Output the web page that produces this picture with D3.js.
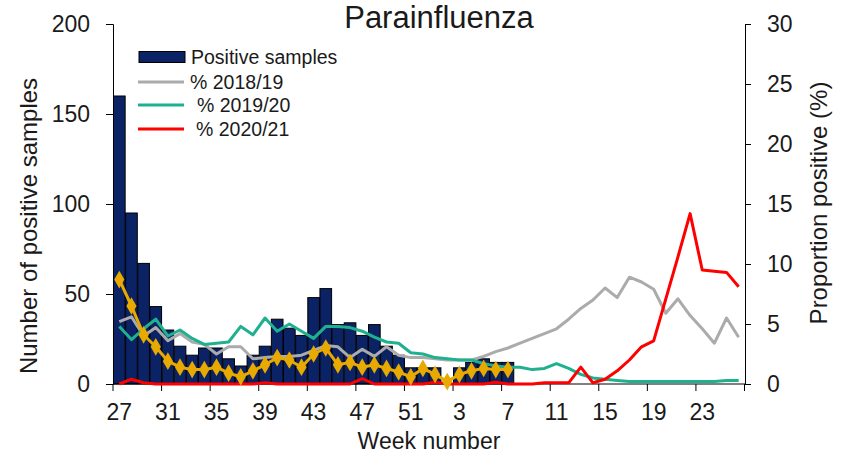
<!DOCTYPE html>
<html>
<head>
<meta charset="utf-8">
<script src="https://cdn.jsdelivr.net/npm/d3@7"></script>
<style>
  body { margin: 0; background: #fff; }
  svg { display: block; font-family: "Liberation Sans", Arial, sans-serif; }
</style>
</head>
<body>
<svg id="chart" width="846" height="469"></svg>
<script>
"use strict";

// week categories, season runs week 27 -> week 26
const weeks = ["27","28","29","30","31","32","33","34","35","36","37","38","39","40","41","42","43","44","45","46","47","48","49","50","51","52",
               "1","2","3","4","5","6","7","8","9","10","11","12","13","14","15","16","17","18","19","20","21","22","23","24","25","26"];
const weekTicks = ["27","31","35","39","43","47","51","3","7","11","15","19","23"];

// positive samples (current season, up to week 7)
const positives = [160,95,67,43,30,21,16,20,20,14,10,16,21,36,31,27,48,53,33,34,27,33,21,16,9,9,
                   9,0,9,12,14,12,12];

// proportion positive (%)
const pct1819 = [5.2,5.6,4.0,4.7,3.6,4.2,3.5,3.3,2.5,3.1,3.1,2.1,2.2,2.3,2.3,2.4,2.8,3.2,3.1,2.2,2.9,2.3,3.1,2.4,2.2,2.2,
                 2.1,2.0,2.0,2.0,2.3,2.7,3.0,3.4,3.8,4.2,4.6,5.4,6.3,7.0,8.0,7.2,8.9,8.5,7.9,5.9,7.1,5.7,4.6,3.4,5.5,3.9];
const pct1920 = [4.8,3.7,4.6,5.4,4.0,4.5,3.8,3.3,3.4,3.5,4.8,4.1,5.5,4.4,5.0,4.4,3.8,4.8,4.8,4.7,4.4,3.9,3.5,3.4,2.6,2.5,
                 2.2,2.1,2.0,2.0,1.7,1.5,1.4,1.4,1.2,1.3,1.7,1.3,0.8,0.5,0.4,0.3,0.2,0.2,0.2,0.2,0.2,0.2,0.2,0.2,0.3,0.3];
const pct2021 = [0,0.4,0.1,0,0,0,0,0,0,0,0,0,0.1,0,0,0,0,0,0,0,0.45,0,0,0,0,0,
                 0.15,0,0,0,0,0.15,0,0,0,0.1,0.1,0.1,1.4,0.1,0.4,1.1,2.0,3.1,3.6,7.1,10.6,14.2,9.5,9.4,9.3,8.1];
const pctCurrent = [8.7,6.5,4.1,3.1,1.9,1.4,1.2,1.2,1.4,0.9,0.6,1.1,1.6,2.2,2.0,1.4,2.5,3.0,1.6,1.8,1.4,1.6,1.3,1.0,0.6,1.3,
                    0.8,0.2,0.8,1.1,1.3,1.2,1.2];

const legendItems = [
  {label:"Positive samples", type:"bar"},
  {label:"% 2018/19", type:"line", color:"#ababab"},
  {label:"% 2019/20", type:"line", color:"#1fb18f"},
  {label:"% 2020/21", type:"line", color:"#ff0000"}
];

const svg = d3.select("#chart");
const m = {l:113, r:745, t:24, b:384};

let x = d3.scaleBand().domain(weeks).range([m.l, m.r]).padding(0.04);
let yL = d3.scaleLinear().domain([0, 200]).range([m.b, m.t]);
let yR = d3.scaleLinear().domain([0, 30]).range([m.b, m.t]);
let cx = d => x(d) + x.bandwidth() / 2;

// bars
svg.append("g").selectAll("rect")
  .data(positives)
  .join("rect")
    .attr("x", (d, i) => x(weeks[i]))
    .attr("y", d => yL(d))
    .attr("width", x.bandwidth())
    .attr("height", d => yL(0) - yL(d))
    .attr("fill", "#0b2265")
    .attr("stroke", "#000")
    .attr("stroke-width", 1);

// x axis: ticks between categories every 4 weeks, labels at centres
let xAxis = svg.append("g");
xAxis.append("line")
  .attr("x1", m.l).attr("x2", m.r).attr("y1", m.b).attr("y2", m.b)
  .attr("stroke", "#000");
xAxis.selectAll("line.tk")
  .data(weekTicks.concat(["27e"]))
  .join("line")
    .attr("class", "tk")
    .attr("x1", (d, i) => m.l + i * 4 * x.step())
    .attr("x2", (d, i) => m.l + i * 4 * x.step())
    .attr("y1", m.b).attr("y2", m.b + 7)
    .attr("stroke", "#000");
xAxis.selectAll("text")
  .data(weekTicks)
  .join("text")
    .attr("x", d => cx(d))
    .attr("y", 420)
    .attr("text-anchor", "middle")
    .attr("font-size", 23)
    .attr("fill", "#1a1a1a")
    .text(d => d);

// left axis
let gL = svg.append("g")
  .attr("transform", `translate(${m.l},0)`)
  .call(d3.axisLeft(yL).tickValues([0,50,100,150,200]).tickSize(7).tickPadding(16));
// right axis
let gR = svg.append("g")
  .attr("transform", `translate(${m.r},0)`)
  .call(d3.axisRight(yR).tickValues([0,5,10,15,20,25,30]).tickSize(6).tickPadding(16));
[gL, gR].forEach(g => {
  g.select(".domain").attr("stroke", "#000");
  g.selectAll(".tick line").attr("stroke", "#000");
  g.selectAll(".tick text").attr("font-size", 23).attr("fill", "#1a1a1a").attr("font-family", null);
});

// proportion lines
let line = d3.line().x((d, i) => cx(weeks[i])).y(d => yR(d));
[[pct1819, "#ababab"], [pct1920, "#1fb18f"], [pct2021, "#ff0000"]].forEach(([vals, col]) => {
  svg.append("path")
    .attr("d", line(vals))
    .attr("fill", "none")
    .attr("stroke", col)
    .attr("stroke-width", 3)
    .attr("stroke-linejoin", "round");
});

// current season with diamond markers
let gold = "#e8a900";
svg.append("path")
  .attr("d", line(pctCurrent))
  .attr("fill", "none")
  .attr("stroke", gold)
  .attr("stroke-width", 3)
  .attr("stroke-linejoin", "round");
svg.append("g").selectAll("path")
  .data(pctCurrent)
  .join("path")
    .attr("transform", (d, i) => `translate(${cx(weeks[i])},${yR(d)})`)
    .attr("d", d3.symbol(d3.symbolDiamond, 90))
    .attr("fill", gold);

// titles
svg.append("text")
  .attr("x", 439).attr("y", 28)
  .attr("text-anchor", "middle")
  .attr("font-size", 31)
  .attr("fill", "#1a1a1a")
  .text("Parainfluenza");
svg.append("text")
  .attr("x", 429).attr("y", 449)
  .attr("text-anchor", "middle")
  .attr("font-size", 23)
  .attr("fill", "#1a1a1a")
  .text("Week number");
svg.append("text")
  .attr("transform", "translate(28,226) rotate(-90)")
  .attr("text-anchor", "middle")
  .attr("dominant-baseline", "central")
  .attr("font-size", 24)
  .attr("fill", "#1a1a1a")
  .text("Number of positive samples");
svg.append("text")
  .attr("transform", "translate(818,203) rotate(-90)")
  .attr("text-anchor", "middle")
  .attr("dominant-baseline", "central")
  .attr("font-size", 24)
  .attr("fill", "#1a1a1a")
  .text("Proportion positive (%)");

// legend
let leg = svg.append("g");
let legY = [57, 82, 105, 129];
let legTx = [191, 190, 197, 196];
legendItems.forEach((it, i) => {
  if (it.type == "bar")
    leg.append("rect").attr("x", 139).attr("y", legY[i] - 5.5).attr("width", 46).attr("height", 11)
      .attr("fill", "#0b2265").attr("stroke", "#000");
  else
    leg.append("line").attr("x1", 138).attr("x2", 184).attr("y1", legY[i]).attr("y2", legY[i])
      .attr("stroke", it.color).attr("stroke-width", 3);
  leg.append("text")
    .attr("x", legTx[i]).attr("y", legY[i])
    .attr("dominant-baseline", "central")
    .attr("font-size", 19.5)
    .attr("fill", "#1a1a1a")
    .text(it.label);
});
</script>
</body>
</html>
